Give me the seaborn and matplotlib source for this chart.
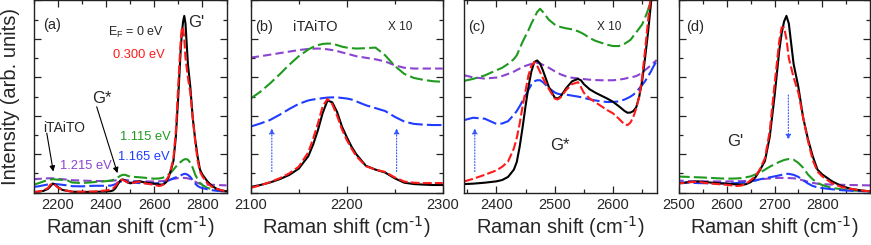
import numpy as np
import pandas as pd
import matplotlib
matplotlib.use("Agg")
import matplotlib.pyplot as plt
import seaborn as sns
from matplotlib.ticker import MultipleLocator, FixedLocator, NullFormatter

# ---------------- data ----------------
# full-range spectra (panels a and d), intensity in arbitrary units
x_full = [2100, 2120, 2140, 2160, 2170, 2180, 2190, 2200, 2220, 2240, 2260, 2300, 2350,
          2400, 2420, 2430, 2440, 2450, 2460, 2470, 2480, 2490, 2500, 2510, 2520, 2540,
          2560, 2580, 2600, 2620, 2630, 2640, 2650, 2660, 2670, 2680, 2690, 2700, 2710,
          2715, 2720, 2725, 2730, 2740, 2750, 2760, 2770, 2780, 2790, 2800, 2820, 2840,
          2860, 2880, 2900]
black_full = [0.03, 0.05, 0.09, 0.2, 0.33, 0.48, 0.42, 0.3, 0.14, 0.1, 0.05, 0.04, 0.045,
              0.06, 0.08, 0.12, 0.24, 0.45, 0.63, 0.69, 0.63, 0.54, 0.49, 0.51, 0.56, 0.59,
              0.54, 0.5, 0.47, 0.43, 0.42, 0.44, 0.55, 0.8, 1.2, 1.65, 2.9, 5.0, 7.4,
              8.3, 8.9, 9.2, 8.8, 6.7, 5.5, 3.9, 2.8, 1.9, 1.2, 0.95, 0.6, 0.35,
              0.2, 0.12, 0.07]
red_full = [0.025, 0.06, 0.11, 0.25, 0.42, 0.49, 0.4, 0.28, 0.14, 0.1, 0.055, 0.05, 0.06,
            0.116, 0.16, 0.22, 0.35, 0.53, 0.67, 0.66, 0.6, 0.53, 0.49, 0.5, 0.54, 0.57,
            0.49, 0.45, 0.41, 0.35, 0.37, 0.45, 0.65, 0.85, 1.25, 1.8, 3.2, 5.6, 7.9,
            8.6, 8.6, 8.0, 7.0, 6.0, 5.2, 3.9, 2.7, 1.7, 1.1, 0.85, 0.5, 0.3,
            0.2, 0.12, 0.07]
green_full = [0.41, 0.49, 0.58, 0.67, 0.69, 0.7, 0.69, 0.68, 0.67, 0.64, 0.53, 0.5, 0.55,
              0.6, 0.63, 0.66, 0.72, 0.8, 0.88, 0.93, 0.93, 0.88, 0.84, 0.83, 0.82, 0.8,
              0.78, 0.75, 0.73, 0.74, 0.76, 0.8, 0.85, 0.95, 1.05, 1.2, 1.35, 1.48, 1.6,
              1.65, 1.7, 1.73, 1.75, 1.72, 1.55, 1.3, 0.95, 0.7, 0.5, 0.4, 0.25, 0.18,
              0.12, 0.09, 0.07]
blue_full = [0.3, 0.33, 0.38, 0.43, 0.44, 0.45, 0.45, 0.44, 0.41, 0.38, 0.34, 0.33, 0.36,
             0.36, 0.37, 0.4, 0.45, 0.52, 0.58, 0.6, 0.58, 0.55, 0.53, 0.52, 0.52, 0.5,
             0.49, 0.48, 0.48, 0.5, 0.52, 0.55, 0.59, 0.63, 0.7, 0.75, 0.8, 0.85, 0.9,
             0.93, 0.96, 0.98, 0.98, 0.93, 0.82, 0.65, 0.48, 0.35, 0.28, 0.24, 0.18, 0.13,
             0.1, 0.08, 0.07]
purple_full = [0.7, 0.72, 0.73, 0.75, 0.75, 0.75, 0.74, 0.72, 0.7, 0.68, 0.65, 0.63, 0.61,
               0.6, 0.62, 0.63, 0.64, 0.66, 0.67, 0.67, 0.66, 0.65, 0.63, 0.62, 0.6, 0.59,
               0.59, 0.585, 0.585, 0.59, 0.6, 0.61, 0.64, 0.66, 0.69, 0.72, 0.74, 0.76, 0.77,
               0.77, 0.77, 0.77, 0.76, 0.75, 0.71, 0.64, 0.57, 0.51, 0.47, 0.45, 0.42, 0.41,
               0.4, 0.39, 0.38]

# panel (b): iTAiTO region, x10 (curves vertically offset)
x_b = [2100, 2110, 2120, 2130, 2140, 2150, 2160, 2165, 2170, 2175, 2180, 2185, 2190, 2195,
       2200, 2205, 2210, 2220, 2230, 2240, 2250, 2260, 2270, 2280, 2290, 2300]
black_b = [0.3, 0.4, 0.53, 0.7, 0.92, 1.25, 1.9, 2.5, 3.25, 4.15, 4.8, 4.7, 4.2, 3.45,
           2.9, 2.4, 2.0, 1.4, 1.2, 1.05, 0.75, 0.52, 0.45, 0.42, 0.4, 0.4]
red_b = [0.25, 0.38, 0.55, 0.75, 1.0, 1.35, 2.1, 2.8, 3.6, 4.5, 4.88, 4.6, 4.0, 3.3,
         2.75, 2.3, 1.9, 1.38, 1.2, 1.08, 0.8, 0.58, 0.52, 0.5, 0.5, 0.5]
green_b = [4.9, 5.25, 5.68, 6.15, 6.65, 7.1, 7.45, 7.58, 7.68, 7.74, 7.76, 7.75, 7.68, 7.6,
           7.55, 7.52, 7.5, 7.52, 7.55, 7.15, 6.6, 6.18, 5.97, 5.87, 5.8, 5.77]
blue_b = [3.44, 3.6, 3.78, 4.05, 4.35, 4.62, 4.8, 4.85, 4.88, 4.92, 4.95, 4.96, 4.96, 4.93,
          4.9, 4.85, 4.75, 4.55, 4.4, 4.25, 3.95, 3.7, 3.58, 3.54, 3.52, 3.52]
purple_b = [7.03, 7.1, 7.18, 7.26, 7.34, 7.42, 7.48, 7.49, 7.5, 7.49, 7.46, 7.42, 7.37, 7.3,
            7.24, 7.17, 7.1, 7.02, 6.94, 6.83, 6.63, 6.5, 6.46, 6.46, 6.46, 6.46]

# panel (c): G* region, x10 (curves vertically offset)
x_c = [2345, 2360, 2380, 2400, 2410, 2420, 2430, 2435, 2440, 2445, 2450, 2455, 2460, 2465,
       2470, 2475, 2480, 2490, 2500, 2505, 2510, 2520, 2530, 2540, 2545, 2550, 2560, 2570,
       2580, 2590, 2600, 2610, 2620, 2625, 2630, 2635, 2640, 2645, 2650, 2655, 2660, 2665,
       2670, 2675]
black_c = [0.45, 0.47, 0.52, 0.59, 0.66, 0.82, 1.2, 1.6, 2.4, 3.4, 4.5, 5.5, 6.3, 6.8,
           6.88, 6.72, 6.35, 5.5, 4.95, 4.9, 5.0, 5.45, 5.8, 5.92, 5.85, 5.65, 5.38, 5.2,
           5.05, 4.9, 4.73, 4.5, 4.25, 4.16, 4.17, 4.25, 4.45, 5.0, 5.8, 7.0, 8.3, 9.8,
           11.5, 13.0]
red_c = [0.59, 0.72, 0.93, 1.16, 1.35, 1.62, 2.3, 2.85, 3.6, 4.5, 5.3, 6.1, 6.6, 6.8,
         6.6, 6.28, 5.95, 5.4, 4.9, 4.85, 4.95, 5.35, 5.65, 5.75, 5.5, 5.2, 4.9, 4.7,
         4.5, 4.3, 4.13, 3.85, 3.55, 3.52, 3.65, 3.95, 4.4, 5.0, 6.0, 7.4, 8.9, 10.3,
         12.0, 13.5]
green_c = [5.82, 5.92, 6.1, 6.37, 6.5, 6.7, 6.95, 7.15, 7.5, 7.85, 8.15, 8.45, 8.8, 9.1,
           9.4, 9.57, 9.4, 9.0, 8.75, 8.68, 8.62, 8.55, 8.5, 8.4, 8.33, 8.25, 8.05, 7.9,
           7.8, 7.7, 7.63, 7.63, 7.75, 7.85, 7.95, 8.15, 8.35, 8.55, 8.75, 9.1, 9.5, 10.0,
           10.6, 11.2]
blue_c = [3.78, 3.9, 3.85, 3.58, 3.6, 3.72, 4.05, 4.25, 4.5, 4.78, 5.05, 5.35, 5.62, 5.8,
          5.85, 5.85, 5.75, 5.45, 5.22, 5.15, 5.12, 5.1, 5.05, 5.0, 4.97, 4.93, 4.86, 4.8,
          4.75, 4.72, 4.72, 4.75, 4.85, 4.92, 5.0, 5.1, 5.25, 5.42, 5.6, 5.8, 6.05, 6.3,
          6.6, 6.85]
purple_c = [6.11, 6.0, 5.94, 5.99, 6.07, 6.18, 6.3, 6.38, 6.46, 6.54, 6.6, 6.65, 6.7, 6.74,
            6.75, 6.72, 6.65, 6.5, 6.32, 6.24, 6.16, 6.05, 5.98, 5.95, 5.93, 5.91, 5.88, 5.86,
            5.85, 5.85, 5.85, 5.88, 5.93, 5.97, 6.0, 6.03, 6.07, 6.15, 6.25, 6.38, 6.5, 6.63,
            6.77, 6.9]

series_names = ["0 eV", "0.300 eV", "1.115 eV", "1.165 eV", "1.215 eV"]

# ---------------- style ----------------
sns.set_theme(style="ticks")
plt.rcParams['font.family'] = ['Liberation Sans', 'DejaVu Sans']
plt.rcParams['mathtext.fontset'] = 'custom'
plt.rcParams['mathtext.rm'] = 'Liberation Sans Narrow'
plt.rcParams['mathtext.it'] = 'Liberation Sans:italic'
plt.rcParams['mathtext.bf'] = 'Liberation Sans:bold'
NARROW = ['Liberation Sans Narrow', 'Liberation Sans', 'DejaVu Sans']

colors = {"0 eV": "black", "0.300 eV": "#ff1a1a", "1.115 eV": "#1f9a1f",
          "1.165 eV": "#1f3cff", "1.215 eV": "#8a44d0"}
styles = {"0 eV": "-", "0.300 eV": (0, (4.3, 1.5)), "1.115 eV": (0, (6.3, 2.0)),
          "1.165 eV": (0, (7.0, 2.0)), "1.215 eV": (0, (4.0, 2.0))}
draw_order = ["1.215 eV", "1.115 eV", "1.165 eV", "0 eV", "0.300 eV"]

def make_df(x, ys):
    rows = []
    for name, y in zip(series_names, ys):
        rows.append(pd.DataFrame({"x": x, "y": y, "s": name}))
    return pd.concat(rows, ignore_index=True)

df_full = make_df(x_full, [black_full, red_full, green_full, blue_full, purple_full])
df_b = make_df(x_b, [black_b, red_b, green_b, blue_b, purple_b])
df_c = make_df(x_c, [black_c, red_c, green_c, blue_c, purple_c])

W, H = 871, 245
fig = plt.figure(figsize=(W / 100, H / 100), dpi=100)

def px_axes(left, right, top=0.5, bottom=192.7):
    return fig.add_axes([left / W, (H - bottom) / H, (right - left) / W, (bottom - top) / H])

ax_a = px_axes(33.5, 226.5)
ax_b = px_axes(250.7, 442.7)
ax_c = px_axes(464.3, 656.7)
ax_d = px_axes(679.0, 870.0)

def draw(ax, df):
    for name in draw_order:
        sub = df[df["s"] == name]
        sns.lineplot(data=sub, x="x", y="y", ax=ax, color=colors[name],
                     linestyle=styles[name], linewidth=1.5, legend=False,
                     estimator=None, sort=False)

draw(ax_a, df_full)
draw(ax_b, df_b)
draw(ax_c, df_c)
draw(ax_d, df_full)

XLABEL = "Raman shift (cm$^{\u2010 1}$)"
limits = {ax_a: (2100, 2900), ax_b: (2100, 2300), ax_c: (2345, 2675), ax_d: (2500, 2900)}
for ax, (lo, hi) in limits.items():
    ax.set_xlim(lo, hi)
    ax.set_ylim(0, 10)
    ax.set_xlabel(XLABEL, fontsize=14.5, labelpad=1.5, family=NARROW)
    ax.set_ylabel("")
    ax.yaxis.set_major_formatter(NullFormatter())
    ax.tick_params(which="both", direction="in", top=True, right=True, labelsize=10.5,
                   pad=4, color="#222222")
    ax.tick_params(which="major", length=5, width=0.9)
    ax.tick_params(which="minor", length=3, width=0.9)
    for sp in ax.spines.values():
        sp.set_linewidth(1.0)
        sp.set_color("#222222")

ax_a.xaxis.set_major_locator(MultipleLocator(200))
ax_a.xaxis.set_minor_locator(MultipleLocator(100))
ax_b.xaxis.set_major_locator(MultipleLocator(100))
ax_b.xaxis.set_minor_locator(MultipleLocator(50))
ax_c.xaxis.set_major_locator(FixedLocator([2400, 2500, 2600]))
ax_c.xaxis.set_minor_locator(FixedLocator([2350, 2450, 2550, 2650]))
ax_d.xaxis.set_major_locator(FixedLocator([2500, 2600, 2700, 2800]))
ax_d.xaxis.set_minor_locator(FixedLocator([2550, 2650, 2750, 2850]))
for ax in (ax_a, ax_b, ax_d):
    ax.yaxis.set_major_locator(MultipleLocator(2))
    ax.yaxis.set_minor_locator(MultipleLocator(1))
ax_c.yaxis.set_major_locator(FixedLocator([5]))
for ax in (ax_a, ax_b, ax_c, ax_d):
    for lab in ax.get_xticklabels():
        lab.set_family(NARROW)

ax_a.set_ylabel("Intensity (arb. units)", fontsize=14.5, labelpad=6)

# ---------------- annotations ----------------
T = dict(va="center", ha="left")
ax_a.text(0.048, 0.87, "(a)", transform=ax_a.transAxes, fontsize=10.5, **T)
ax_a.text(0.386, 0.835, r"E$_\mathregular{F}$ = 0 eV", transform=ax_a.transAxes, fontsize=9, **T)
ax_a.text(0.412, 0.715, "0.300 eV", transform=ax_a.transAxes, fontsize=9.3, color="#ff1a1a", **T)
ax_a.text(0.80, 0.887, "G'", transform=ax_a.transAxes, fontsize=12, **T)
ax_a.text(0.303, 0.49, "G*", transform=ax_a.transAxes, fontsize=12, **T)
ax_a.text(0.049, 0.336, "iTAiTO", transform=ax_a.transAxes, fontsize=10, **T)
ax_a.text(0.448, 0.29, "1.115 eV", transform=ax_a.transAxes, fontsize=9.3, color="#1f9a1f", **T)
ax_a.text(0.438, 0.187, "1.165 eV", transform=ax_a.transAxes, fontsize=9.3, color="#1f3cff", **T)
ax_a.text(0.137, 0.14, "1.215 eV", transform=ax_a.transAxes, fontsize=9.3, color="#8a44d0", **T)
ap = dict(arrowstyle="-|>", color="black", lw=0.8, mutation_scale=8, shrinkA=0, shrinkB=0)
ax_a.annotate("", xy=(2182, 1.1), xytext=(2155, 3.1), arrowprops=ap)
ax_a.annotate("", xy=(2448, 1.02), xytext=(2362, 4.47), arrowprops=ap)

ax_b.text(0.022, 0.862, "(b)", transform=ax_b.transAxes, fontsize=10.5, **T)
ax_b.text(0.222, 0.86, "iTAiTO", transform=ax_b.transAxes, fontsize=10.5, **T)
ax_b.text(0.717, 0.86, "X 10", transform=ax_b.transAxes, fontsize=8.5, **T)
bp = dict(arrowstyle="-|>", color="#3355ff", lw=0.8, linestyle=":", mutation_scale=8,
          shrinkA=0, shrinkB=0)
ax_b.annotate("", xy=(2122, 3.35), xytext=(2122, 1.1), arrowprops=bp)
ax_b.annotate("", xy=(2252, 3.35), xytext=(2252, 1.1), arrowprops=bp)

ax_c.text(0.021, 0.862, "(c)", transform=ax_c.transAxes, fontsize=10.5, **T)
ax_c.text(0.688, 0.86, "X 10", transform=ax_c.transAxes, fontsize=8.5, **T)
ax_c.text(0.445, 0.248, "G*", transform=ax_c.transAxes, fontsize=12, **T)
ax_c.annotate("", xy=(2363, 3.35), xytext=(2363, 1.1), arrowprops=bp)

ax_d.text(0.037, 0.862, "(d)", transform=ax_d.transAxes, fontsize=10.5, **T)
ax_d.text(0.25, 0.265, "G'", transform=ax_d.transAxes, fontsize=12, **T)
ax_d.annotate("", xy=(2729, 2.75), xytext=(2729, 5.08), arrowprops=bp)

fig.savefig("out.png", dpi=100)
